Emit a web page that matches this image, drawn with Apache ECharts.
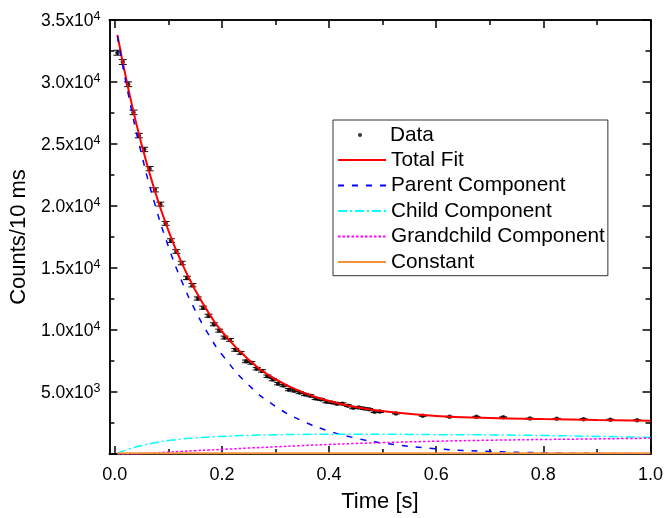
<!DOCTYPE html>
<html><head><meta charset="utf-8">
<script src="https://cdn.jsdelivr.net/npm/echarts@6/dist/echarts.min.js"></script>
<style>html,body{margin:0;padding:0;background:#fff}#c{width:666px;height:518px}</style>
</head><body><div id="c"></div>
<script>
// ---- data ----
const dataT = [0.005,0.015,0.025,0.035,0.045,0.055,0.065,0.075,0.085,0.095,
  0.105,0.115,0.125,0.135,0.145,0.155,0.165,0.175,0.185,0.195,
  0.205,0.215,0.225,0.235,0.245,0.255,0.265,0.275,0.285,0.295,
  0.305,0.315,0.325,0.335,0.345,0.355,0.365,0.375,0.385,0.395,
  0.405,0.415,0.425,0.435,0.445,0.455,0.465,0.475,0.485,0.495,
  0.525,0.575,0.625,0.675,0.725,0.775,0.825,0.875,0.925,0.975];
const dataV = [32360,31610,29820,27550,25680,24560,23010,21300,20150,18600,
  17210,16330,15400,14200,13610,12540,11800,11150,10460,9950,
  9390,9200,8400,8150,7470,7350,6880,6700,6270,6000,
  5670,5520,5190,5100,4950,4790,4700,4470,4400,4210,
  4150,4050,4050,3900,3730,3750,3670,3600,3410,3420,
  3270,3080,3005,3000,2960,2860,2840,2810,2770,2730];
const dataErr = [200,198,192,185,180,176,170,165,160,155,
  150,146,142,137,134,130,127,124,121,118,
  115,113,110,108,105,103,100,98,96,95,
  93,91,89,88,86,85,84,82,81,80,
  79,78,77,76,75,74,74,73,72,71,
  40,38,38,37,37,36,36,36,35,35];

const fitT = [0.005,0.025,0.05,0.075,0.1,0.125,0.15,0.175,0.2,0.25,0.3,0.35,0.4,0.45,0.5,0.6,0.7,0.8,0.9,1.0];
const totalFit = [33800,29520,24970,21190,18040,15410,13230,11400,9880,7600,6040,4990,4280,3790,3460,3070,2910,2820,2750,2690];
const parentComp = [33680,29070,24190,20130,16750,13940,11600,9650,8030,5560,3850,2670,1850,1280,885,424,204,98,47,22];
const childComp = [70,380,680,910,1080,1200,1300,1370,1420,1500,1550,1580,1600,1600,1595,1560,1540,1490,1420,1340];
const grandchildComp = [0,10,40,90,150,210,270,320,370,480,580,680,770,850,920,1030,1110,1170,1220,1270];
const constT = [0.005,1.0];
const constantComp = [60,60];

const xTickValues = [0,0.2,0.4,0.6,0.8,1.0];
const xTickLabels = ['0.0','0.2','0.4','0.6','0.8','1.0'];
const xMinorTicks = [0.1,0.3,0.5,0.7,0.9];
const yTickValues = [5000,10000,15000,20000,25000,30000,35000];
const yTickMantissa = ['5.0','1.0','1.5','2.0','2.5','3.0','3.5'];
const yTickExponent = ['3','4','4','4','4','4','4'];
const yMajorTicks = [0,5000,10000,15000,20000,25000,30000,35000];
const yMinorTicks = [2500,7500,12500,17500,22500,27500,32500];

// ---- chart ----
const FONT = 'Liberation Sans';
const pairs = (xs, ys) => xs.map((x, i) => [x, ys[i]]);
const idx = (arr, v) => arr.findIndex(a => Math.abs(a - v) < 1e-9);

function mkAxis(kind, position, ticks, len, withLabels) {
  const base = {
    type: 'value', position,
    splitLine: {show: false},
    axisLine: {show: true, onZero: false, lineStyle: {color: '#000', width: 1.5}},
    axisTick: {show: true, inside: true, length: len, customValues: ticks, lineStyle: {color: '#000', width: 1.5}},
    axisLabel: {show: false}
  };
  if (kind === 'x') { base.min = -0.01; base.max = 1.0; }
  else { base.min = 0; base.max = 35000; }
  if (withLabels && kind === 'x') {
    base.axisLabel = {show: true, customValues: xTickValues, margin: 12, color: '#000', fontSize: 18, fontFamily: FONT,
      formatter: v => xTickLabels[idx(xTickValues, v)]};
    base.name = 'Time [s]'; base.nameLocation = 'middle'; base.nameGap = 37;
    base.nameTextStyle = {fontSize: 22, fontFamily: FONT, color: '#000'};
  }
  if (withLabels && kind === 'y') {
    base.axisLabel = {show: true, customValues: yTickValues, margin: 9, color: '#000',
      formatter: v => { const i = idx(yTickValues, v); return '{m|' + yTickMantissa[i] + 'x10}{e|' + yTickExponent[i] + '}'; },
      rich: {
        m: {fontSize: 17.5, fontFamily: FONT, color: '#000', lineHeight: 20, padding: [3,0,0,0]},
        e: {fontSize: 12.5, fontFamily: FONT, color: '#000', verticalAlign: 'top', lineHeight: 12, padding: [0,0,4,0]}
      }};
    base.name = 'Counts/10 ms'; base.nameLocation = 'middle'; base.nameGap = 75;
    base.nameTextStyle = {fontSize: 22, fontFamily: FONT, color: '#000'};
  }
  return base;
}

const chart = echarts.init(document.getElementById('c'), null, {renderer: 'canvas'});
const lineBase = {type: 'line', showSymbol: false, symbol: 'none', smooth: 0.5, xAxisIndex: 0, yAxisIndex: 0, silent: true, animation: false};

chart.setOption({
  animation: false,
  backgroundColor: '#fff',
  grid: {left: 108, right: 14, top: 20, bottom: 61.5, containLabel: false},
  xAxis: [
    mkAxis('x', 'bottom', xTickValues, 8, true),
    mkAxis('x', 'bottom', xMinorTicks, 5, false),
    mkAxis('x', 'top', xTickValues, 8, false),
    mkAxis('x', 'top', xMinorTicks, 5, false)
  ],
  yAxis: [
    mkAxis('y', 'left', yMajorTicks, 8, true),
    mkAxis('y', 'left', yMinorTicks, 5, false),
    mkAxis('y', 'right', yMajorTicks, 8, false),
    mkAxis('y', 'right', yMinorTicks, 5, false)
  ],
  legend: [
    {data: ['Data'], orient: 'vertical', left: 358, top: 124.5, padding: 0, itemWidth: 4, itemHeight: 4, icon: 'circle',
     selectedMode: false, textStyle: {fontSize: 20.8, fontFamily: FONT, color: '#000', lineHeight: 21, padding: [0,0,0,23]}},
    {data: ['Total Fit','Parent Component','Child Component','Grandchild Component','Constant'],
     orient: 'vertical', left: 333, top: 120, padding: [29.5,3,3.2,4], itemWidth: 48, itemHeight: 14, itemGap: 4.5,
     borderColor: '#333', borderWidth: 1, backgroundColor: 'rgba(255,255,255,0)', selectedMode: false,
     itemStyle: {opacity: 0, borderWidth: 0},
     textStyle: {fontSize: 20.8, fontFamily: FONT, color: '#000', lineHeight: 21}}
  ],
  series: [
    {name: 'errbars', type: 'custom', xAxisIndex: 0, yAxisIndex: 0, silent: true,
     data: dataT.map((t, i) => [t, dataV[i], dataErr[i]]),
     renderItem: (params, api) => {
       const t = api.value(0), v = api.value(1), e = api.value(2);
       const hi = api.coord([t, v + e]), lo = api.coord([t, v - e]);
       const w = 4, st = {stroke: '#111', lineWidth: 1};
       return {type: 'group', children: [
         {type: 'line', shape: {x1: hi[0], y1: hi[1], x2: lo[0], y2: lo[1]}, style: st},
         {type: 'line', shape: {x1: hi[0] - w, y1: hi[1], x2: hi[0] + w, y2: hi[1]}, style: st},
         {type: 'line', shape: {x1: lo[0] - w, y1: lo[1], x2: lo[0] + w, y2: lo[1]}, style: st}
       ]};
     }},
    {name: 'Data', type: 'scatter', xAxisIndex: 0, yAxisIndex: 0, symbol: 'circle', symbolSize: 4.5,
     itemStyle: {color: '#000'}, data: pairs(dataT, dataV), silent: true},
    Object.assign({}, lineBase, {name: 'Total Fit', data: pairs(fitT, totalFit), lineStyle: {color: '#ff0000', width: 2}, itemStyle: {color: '#ff0000'}}),
    Object.assign({}, lineBase, {name: 'Parent Component', data: pairs(fitT, parentComp), lineStyle: {color: '#0000ff', width: 1.5, type: [6, 8]}, itemStyle: {color: '#0000ff'}}),
    Object.assign({}, lineBase, {name: 'Child Component', data: pairs(fitT, childComp), lineStyle: {color: '#00ffff', width: 1.5, type: [9, 3, 2, 3]}, itemStyle: {color: '#00ffff'}}),
    Object.assign({}, lineBase, {name: 'Grandchild Component', data: pairs(fitT, grandchildComp), lineStyle: {color: '#ff00ff', width: 1.5, type: [2.5, 2]}, itemStyle: {color: '#ff00ff'}}),
    Object.assign({}, lineBase, {name: 'Constant', smooth: false, data: pairs(constT, constantComp), lineStyle: {color: '#f5923e', width: 2}, itemStyle: {color: '#f5923e'}})
  ]
});
</script></body></html>
